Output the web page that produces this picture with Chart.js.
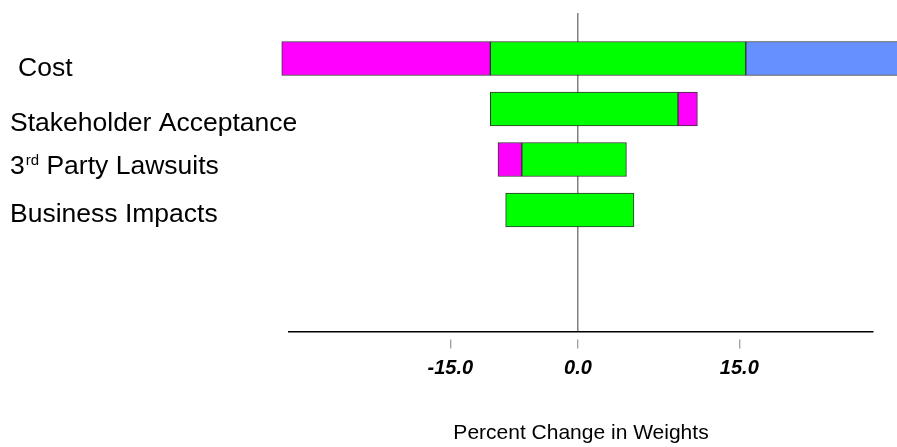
<!DOCTYPE html>
<html>
<head>
<meta charset="utf-8">
<title>Percent Change in Weights</title>
<script src="https://cdn.jsdelivr.net/npm/chart.js@4/dist/chart.umd.min.js"></script>
<style>
    html, body { margin: 0; padding: 0; background: #ffffff; }
    canvas { display: block; }
</style>
</head>
<body>
<canvas id="tornado" width="897" height="447"></canvas>
<script>
var categories = ['Cost', 'Stakeholder Acceptance', '3rd Party Lawsuits', 'Business Impacts'];

// [from, to] in percent change, null where the row has no such bar
var greenRange   = [[-10.3, 15.6], [-10.3, 9.3], [-6.6, 4.5], [-8.5, 5.2]];
var magentaRange = [[-34.8, -10.3], [9.3, 11.1], [-9.4, -6.6], null];
var blueRange    = [[15.6, 32], null, null, null];

var tickValues = [-15, 0, 15];
var tickLabels = ['-15.0', '0.0', '15.0'];

var FONT = '"Liberation Sans", Arial, Helvetica, sans-serif';

// the original axis is stretched differently on each side of zero
class SplitScale extends Chart.LinearScale {
    getPixelForValue(value) {
        if (value === null || value === undefined || isNaN(value)) return NaN;
        var z = this.options.zeroFraction;
        var dec = value < 0 ? z * (1 - value / this.min) : z + (1 - z) * value / this.max;
        return this.getPixelForDecimal(dec);
    }
    getValueForPixel(pixel) {
        var z = this.options.zeroFraction;
        var dec = this.getDecimalForPixel(pixel);
        return dec < z ? this.min * (1 - dec / z) : this.max * (dec - z) / (1 - z);
    }
}
SplitScale.id = 'split';
Chart.register(SplitScale);

function rows(ranges) {
    var out = [];
    for (var i = 0; i < ranges.length; i++) {
        if (ranges[i]) out.push({ x: ranges[i], y: i });
    }
    return out;
}

var categoryLabels = {
    id: 'categoryLabels',
    afterDraw: function(chart) {
        var ctx = chart.ctx;
        var yScale = chart.scales.y;
        var indent = [18, 10, 10, 10];
        var nudge = [9, 13, 5, 3];
        ctx.save();
        ctx.fillStyle = '#000000';
        ctx.textAlign = 'left';
        ctx.textBaseline = 'alphabetic';
        for (var i = 0; i < categories.length; i++) {
            var base = yScale.getPixelForValue(i) + nudge[i] + 9;
            var x = indent[i];
            var m = categories[i].match(/^(\d+)(st|nd|rd|th)(.*)$/);
            ctx.font = '26.5px ' + FONT;
            if (m) {
                ctx.fillText(m[1], x, base);
                x += ctx.measureText(m[1]).width;
                ctx.font = '15px ' + FONT;
                ctx.fillText(m[2], x + 1, base - 9);
                x += ctx.measureText(m[2]).width + 1;
                ctx.font = '26.5px ' + FONT;
                ctx.fillText(m[3], x, base);
            } else {
                ctx.fillText(categories[i], x, base);
            }
        }
        ctx.restore();
    }
};

function barSet(label, ranges, color) {
    return {
        label: label,
        data: rows(ranges),
        backgroundColor: color,
        borderColor: '#333333',
        borderWidth: 1,
        borderSkipped: false,
        barThickness: 34,
        grouped: false,
        clip: false
    };
}

new Chart(document.getElementById('tornado'), {
    type: 'bar',
    data: {
        datasets: [
            barSet('Base', greenRange, '#00ff00'),
            barSet('Low', magentaRange, '#ff00ff'),
            barSet('High', blueRange, '#6690ff')
        ]
    },
    options: {
        indexAxis: 'y',
        responsive: false,
        animation: false,
        layout: { padding: { left: 289, right: 24, top: 13, bottom: 0 } },
        plugins: { legend: { display: false }, tooltip: { enabled: false } },
        scales: {
            x: {
                type: 'split',
                position: 'bottom',
                min: -33.95,
                max: 27.43,
                zeroFraction: 0.4949,
                bounds: 'data',
                afterBuildTicks: function(scale) {
                    scale.ticks = tickValues.map(function(v) { return { value: v }; });
                },
                border: { display: true, color: '#000000', width: 1.5 },
                grid: {
                    drawTicks: true,
                    tickLength: 18,
                    tickColor: '#808080',
                    tickWidth: 1,
                    tickBorderDash: [0, 7, 9, 100],
                    lineWidth: 1.5,
                    color: function(c) {
                        return c.tick && c.tick.value === 0 ? '#808080' : 'rgba(0,0,0,0)';
                    }
                },
                ticks: {
                    autoSkip: false,
                    maxRotation: 0,
                    padding: 7,
                    color: '#000000',
                    font: { family: FONT, size: 20, weight: 'bold', style: 'italic' },
                    callback: function(value, index) { return tickLabels[index]; }
                },
                title: {
                    display: true,
                    text: 'Percent Change in Weights',
                    color: '#000000',
                    font: { family: FONT, size: 21 },
                    padding: { top: 33, bottom: 1 }
                }
            },
            y: {
                type: 'linear',
                display: false,
                reverse: true,
                offset: false,
                min: -0.9,
                max: 5.41,
                bounds: 'data',
                grid: { display: false }
            }
        }
    },
    plugins: [categoryLabels]
});
</script>
</body>
</html>
